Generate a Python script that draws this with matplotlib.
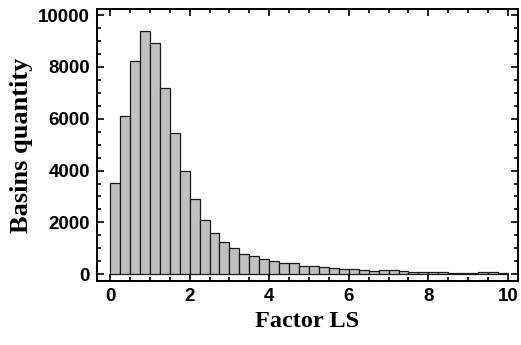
import matplotlib.pyplot as plt
from matplotlib.ticker import MultipleLocator
import numpy as np

# histogram of factor LS, bins of width 0.25 from 0 to 10
bin_width = 0.25
counts = [3510, 6100, 8220, 9380, 8920, 7200, 5450, 3970, 2900, 2090,
          1580, 1260, 1000, 800, 710, 580, 510, 420, 420, 330,
          330, 280, 230, 205, 205, 180, 140, 150, 150, 128,
          100, 77, 77, 85, 62, 62, 62, 100, 77, 62]
edges = np.arange(len(counts)) * bin_width

xticks = [0, 2, 4, 6, 8, 10]
yticks = [0, 2000, 4000, 6000, 8000, 10000]

fig = plt.figure(figsize=(5.21, 3.45), dpi=100)
ax = fig.add_axes([0.186, 0.1855, 0.808, 0.789])

ax.bar(edges, counts, width=bin_width, align='edge',
       color='#c0c0c0', edgecolor='#1a1a1a', linewidth=0.9)

ax.set_xlim(-0.33, 10.25)
ax.set_ylim(-260, 10240)
ax.set_xticks(xticks)
ax.set_yticks(yticks)
ax.xaxis.set_minor_locator(MultipleLocator(0.5))
ax.yaxis.set_minor_locator(MultipleLocator(500))
ax.tick_params(which='both', direction='in', top=True, right=True, width=1.2)
ax.tick_params(which='major', length=5)
ax.tick_params(which='minor', length=3)
ax.tick_params(axis='both', which='major', labelsize=13.5, pad=5)
for lab in ax.get_xticklabels() + ax.get_yticklabels():
    lab.set_fontfamily('Liberation Sans')
    lab.set_fontweight('bold')
for s in ax.spines.values():
    s.set_linewidth(1.4)

ax.set_xlabel('Factor LS', family='Liberation Serif', fontweight='bold',
              fontsize=17.5, labelpad=4)
ax.set_ylabel('Basins quantity', family='Liberation Serif', fontweight='bold',
              fontsize=19, labelpad=4)

fig.savefig('out.png', dpi=100)
